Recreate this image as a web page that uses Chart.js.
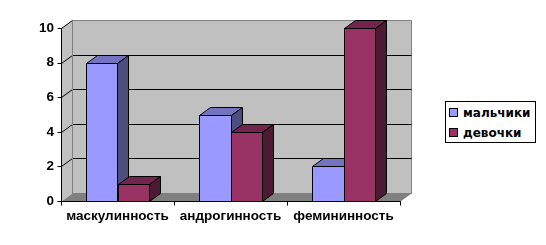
<!DOCTYPE html>
<html>
<head>
<meta charset="utf-8">
<script src="https://cdn.jsdelivr.net/npm/chart.js@4"></script>
<style>
  body { margin: 0; background: #fff; }
  #wrap { position: relative; width: 546px; height: 245px; }
  #legend {
    position: absolute; left: 445px; top: 101px; width: 89px; height: 40px;
    border: 1px solid #000; background: #fff;
    font: bold 12px "DejaVu Sans", sans-serif; color: #000;
  }
  .item { position: absolute; left: 3px; height: 16px; line-height: 16px; white-space: nowrap; }
  .item i { display: inline-block; width: 7px; height: 7px; border: 1px solid #000; margin-right: 5px; vertical-align: 0; }
</style>
</head>
<body>
<div id="wrap">
  <canvas id="c" width="546" height="245"></canvas>
  <div id="legend"></div>
</div>
<script>
// данные
const categories = ['маскулинность', 'андрогинность', 'фемининность'];
const boys = [8, 5, 2];
const girls = [1, 4, 10];
const seriesNames = ['мальчики', 'девочки'];

const front = ['#9999FF', '#993366'];
const top_ = ['#7373BF', '#73264D'];
const side = ['#4D4D80', '#4D1A33'];

const DX = 11, DY = -8; // глубина
const FONT = { family: '"Liberation Sans", Arial, sans-serif', size: 13.5, weight: 'bold' };

function poly(ctx, pts, fill, stroke) {
  ctx.beginPath();
  ctx.moveTo(pts[0][0], pts[0][1]);
  for (let i = 1; i < pts.length; i++) ctx.lineTo(pts[i][0], pts[i][1]);
  ctx.closePath();
  if (fill) { ctx.fillStyle = fill; ctx.fill(); }
  if (stroke) { ctx.strokeStyle = stroke; ctx.lineWidth = 1; ctx.stroke(); }
}

const walls = {
  id: 'walls',
  beforeDatasetsDraw(chart) {
    const ctx = chart.ctx, a = chart.chartArea, y = chart.scales.y;
    const L = a.left + 0.5, R = a.right + 0.5, T = a.top + 0.5, B = a.bottom + 0.5;
    ctx.save();
    // левая стенка
    poly(ctx, [[L, T], [L + DX, T + DY], [L + DX, B + DY], [L, B]], '#C0C0C0', null);
    // задняя стенка
    poly(ctx, [[L + DX, T + DY], [R + DX, T + DY], [R + DX, B + DY], [L + DX, B + DY]], '#C0C0C0', '#808080');
    // пол
    poly(ctx, [[L, B], [L + DX, B + DY], [R + DX, B + DY], [R, B]], '#808080', null);
    // сетка
    ctx.strokeStyle = '#000'; ctx.lineWidth = 1;
    y.ticks.forEach(t => {
      if (t.value === 0) return;
      const py = Math.round(y.getPixelForValue(t.value)) + 0.5;
      ctx.beginPath();
      ctx.moveTo(L, py); ctx.lineTo(L + DX, py + DY);
      if (t.value !== y.max) ctx.lineTo(R + DX, py + DY);
      ctx.stroke();
    });
    ctx.strokeStyle = '#808080';
    ctx.beginPath(); ctx.moveTo(L + DX, T + DY); ctx.lineTo(L + DX, B + DY); ctx.stroke();
    // оси
    ctx.strokeStyle = '#000';
    ctx.beginPath();
    ctx.moveTo(L, T); ctx.lineTo(L, B); ctx.lineTo(R, B);
    y.ticks.forEach(t => {
      const py = Math.round(y.getPixelForValue(t.value)) + 0.5;
      ctx.moveTo(L - 4, py); ctx.lineTo(L, py);
    });
    const step = (a.right - a.left) / categories.length;
    for (let i = 0; i <= categories.length; i++) {
      const px = Math.round(a.left + step * i) + 0.5;
      ctx.moveTo(px, B); ctx.lineTo(px, B + 4);
    }
    ctx.stroke();
    ctx.restore();
  },
  afterDatasetsDraw(chart) {
    const ctx = chart.ctx;
    ctx.save();
    // рисуем серии по порядку, чтобы передняя грань второй серии закрывала бок первой
    chart.data.datasets.forEach((ds, i) => {
      chart.getDatasetMeta(i).data.forEach(bar => {
        const p = bar.getProps(['x', 'y', 'base', 'width'], true);
        const l = Math.round(p.x - p.width / 2) + 0.5, r = Math.round(p.x + p.width / 2) + 0.5;
        const t = Math.round(p.y) + 0.5, b = Math.round(p.base) + 0.5;
        poly(ctx, [[l, t], [l + DX, t + DY], [r + DX, t + DY], [r, t]], top_[i], '#000');
        poly(ctx, [[r, t], [r + DX, t + DY], [r + DX, b + DY], [r, b]], side[i], '#000');
        poly(ctx, [[l, t], [r, t], [r, b], [l, b]], front[i], '#000');
      });
    });
    ctx.restore();
  }
};

new Chart(document.getElementById('c'), {
  type: 'bar',
  data: {
    labels: categories,
    datasets: [
      { label: seriesNames[0], data: boys, backgroundColor: 'rgba(0,0,0,0)' },
      { label: seriesNames[1], data: girls, backgroundColor: 'rgba(0,0,0,0)' }
    ]
  },
  options: {
    responsive: false,
    animation: false,
    devicePixelRatio: 1,
    categoryPercentage: 0.566,
    barPercentage: 1,
    layout: { padding: { left: 0, right: 146, top: 28, bottom: 0 } },
    plugins: { legend: { display: false }, tooltip: { enabled: false } },
    scales: {
      x: {
        grid: { display: false, drawTicks: false },
        border: { display: false },
        ticks: { color: '#000', font: FONT, padding: 7, maxRotation: 0 },
        afterFit: s => { s.height = 44; }
      },
      y: {
        min: 0, max: 10,
        grid: { display: false, drawTicks: false },
        border: { display: false },
        ticks: { stepSize: 2, color: '#000', font: FONT, padding: 7 },
        afterFit: s => { s.width = 61; }
      }
    }
  },
  plugins: [walls]
});

// легенда
const lg = document.getElementById('legend');
seriesNames.forEach((n, i) => {
  const d = document.createElement('div');
  d.className = 'item';
  d.style.top = (3 + i * 20) + 'px';
  d.innerHTML = '<i style="background:' + front[i] + '"></i>' + n;
  lg.appendChild(d);
});
</script>
</body>
</html>
